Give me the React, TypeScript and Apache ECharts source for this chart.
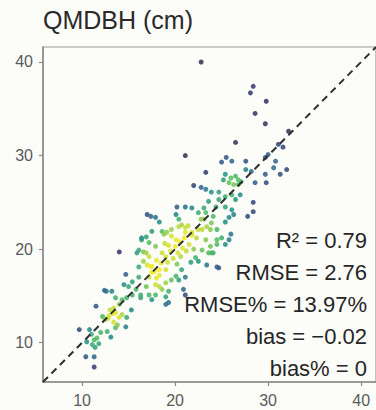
import React, { useEffect, useRef } from "react";
import * as echarts from "echarts";

const titleText = "QMDBH (cm)";
const tickValues = [10, 20, 30, 40];
const axisMin = 5.8;
const axisMax = 41.6;
const statLines = ["R² = 0.79", "RMSE = 2.76", "RMSE% = 13.97%", "bias = −0.02", "bias% = 0"];

// observed (x) values
const obsX = [
  22.8, 28.4, 28.1, 29.8, 28.6, 29.7, 32.2, 26.5, 21.1, 31.1, 31.6, 25.0, 25.5, 26.1, 27.6, 27.6, 28.2, 29.7, 30.0, 30.8,
  30.6, 32.0, 31.3, 29.7, 29.8, 28.6, 23.3, 25.4, 26.0, 26.5, 26.8, 27.1, 25.2, 25.8, 26.3, 26.8, 23.9, 24.7, 23.3, 22.8,
  25.4, 26.1, 26.5, 27.0, 24.7, 24.4, 25.4, 23.6, 23.1, 23.3, 24.1, 23.9, 23.4, 26.1, 26.3, 25.8, 25.4, 28.4, 28.4, 27.8,
  23.1, 22.9, 23.8, 22.0, 21.8, 21.1, 22.5, 20.2, 17.0, 17.4, 17.9, 18.3, 20.1, 20.4, 20.7, 17.5, 18.6, 19.1, 16.4, 16.9,
  24.5, 22.8, 23.3, 24.5, 25.0, 22.9, 23.6, 24.1, 22.5, 22.2, 21.7, 23.4, 24.5, 20.7, 21.1, 20.4, 17.2, 16.9, 16.6, 17.4,
  16.1, 18.3, 19.0, 19.6, 15.8, 16.3, 21.1, 21.8, 22.5, 25.8, 26.0, 24.5, 23.8, 23.9, 25.4, 24.7, 20.9, 21.1, 14.0, 15.9,
  16.6, 12.6, 13.2, 11.5, 9.7, 10.8, 10.4, 11.3, 11.3, 14.7, 15.4, 15.0, 14.5, 16.1, 16.9, 16.1, 17.0, 17.5, 18.3, 17.9,
  17.9, 19.0, 19.3, 18.6, 19.3, 20.1, 17.2, 17.9, 16.4, 18.8, 19.6, 20.4, 21.1, 12.4, 11.0, 11.3, 11.6, 11.1, 11.8, 10.5,
  11.4, 12.0, 13.1, 12.7, 13.6, 12.9, 13.3, 12.5, 14.0, 14.3, 14.8, 13.8, 13.4, 14.0, 14.3, 14.8, 13.6, 15.4, 17.2, 16.3,
  17.5, 19.0, 15.3, 14.7, 18.5, 19.0, 19.5, 20.0, 20.5, 21.0, 19.2, 19.8, 20.3, 20.8, 18.0, 18.6, 19.3, 20.1, 21.5, 22.0,
  17.8, 18.3, 17.5, 20.6, 21.2, 19.6, 18.9, 20.2, 21.8, 17.2, 18.0, 19.0, 21.4, 22.3, 12.8, 13.4, 12.2, 13.0, 13.6,
];

// predicted (y) values
const predY = [
  40.0, 37.4, 36.7, 35.8, 34.5, 33.4, 32.6, 31.4, 30.0, 31.2, 30.9, 29.3, 29.8, 29.4, 29.4, 28.5, 28.3, 29.8, 30.1, 29.4,
  28.7, 28.5, 28.0, 28.0, 27.1, 27.1, 28.2, 28.0, 27.6, 27.8, 27.4, 27.2, 27.4, 27.1, 26.9, 26.9, 26.1, 26.1, 26.4, 26.6,
  25.6, 25.8, 25.3, 25.8, 25.3, 24.5, 24.5, 25.1, 24.4, 23.9, 23.5, 22.8, 22.4, 24.2, 23.7, 23.4, 22.9, 25.0, 24.0, 23.5,
  23.2, 22.1, 22.1, 26.8, 24.4, 24.5, 23.9, 24.5, 23.7, 23.5, 23.4, 22.9, 23.7, 23.2, 22.6, 21.9, 21.9, 21.8, 21.2, 21.3,
  22.1, 23.2, 21.0, 21.0, 21.2, 19.9, 19.6, 19.6, 18.7, 19.1, 18.6, 18.3, 18.1, 17.8, 17.0, 16.7, 20.7, 19.6, 18.7, 18.1,
  19.9, 16.0, 16.4, 16.7, 15.7, 15.1, 22.3, 21.8, 22.1, 21.0, 21.6, 20.5, 20.3, 19.6, 20.5, 18.0, 15.7, 15.1, 19.7, 19.6,
  19.7, 15.5, 15.5, 13.9, 11.4, 11.4, 8.5, 8.5, 7.4, 17.3, 16.5, 16.0, 16.2, 17.0, 16.0, 18.1, 18.3, 17.5, 17.8, 16.2,
  15.1, 14.9, 14.3, 15.7, 15.5, 17.1, 19.2, 20.3, 21.0, 21.6, 22.1, 22.4, 21.8, 15.6, 10.9, 10.3, 10.5, 9.8, 9.9, 10.1,
  9.5, 11.1, 10.6, 11.2, 11.6, 12.9, 13.1, 12.5, 12.7, 13.0, 12.7, 11.9, 13.7, 14.1, 14.6, 14.8, 14.8, 15.1, 15.1, 14.8,
  14.6, 14.1, 13.5, 11.7, 18.5, 19.2, 19.8, 20.3, 20.8, 21.2, 18.6, 19.0, 19.6, 20.1, 18.8, 19.6, 20.4, 21.0, 20.5, 20.0,
  17.6, 17.2, 18.2, 19.2, 19.8, 21.4, 20.6, 18.4, 21.5, 17.0, 16.9, 17.8, 22.5, 21.2, 12.6, 12.2, 12.8, 13.5, 13.2,
];

export default function App() {
  const ref = useRef<HTMLDivElement>(null);

  useEffect(() => {
    if (!ref.current) return;
    const chart = echarts.init(ref.current, null, { renderer: "svg" });

    const n = Math.min(obsX.length, predY.length);
    const h = 1.0;
    const dens: number[] = [];
    for (let i = 0; i < n; i++) {
      let s = 0;
      for (let j = 0; j < n; j++) {
        const dx = obsX[i] - obsX[j];
        const dy = predY[i] - predY[j];
        s += Math.exp(-(dx * dx + dy * dy) / (2 * h * h));
      }
      dens.push(s);
    }
    const maxD = Math.max(...dens);
    const pts = [] as number[][];
    for (let i = 0; i < n; i++) pts.push([obsX[i], predY[i], dens[i] / maxD]);
    // draw sparse first, dense on top
    pts.sort((a, b) => a[2] - b[2]);

    const axisCommon = {
      type: "value" as const,
      min: axisMin,
      max: axisMax,
      splitLine: { show: false },
      axisLine: { show: true, lineStyle: { color: "#8a8a8a", width: 1.5 } },
      axisTick: {
        show: true,
        length: 4,
        inside: false,
        customValues: tickValues,
        lineStyle: { color: "#8a8a8a", width: 1.2 },
      },
      axisLabel: {
        customValues: tickValues,
        color: "#5a5a5a",
        fontSize: 16,
        fontFamily: "Liberation Sans, Arial, sans-serif",
        margin: 10,
      },
    };

    chart.setOption({
      animation: false,
      backgroundColor: "#fcfcf8",
      grid: {
        left: 43,
        top: 47,
        right: -3,
        bottom: 28,
        show: true,
        borderColor: "#9a9a9a",
        borderWidth: 1.2,
        backgroundColor: "transparent",
      },
      xAxis: { ...axisCommon },
      yAxis: { ...axisCommon },
      visualMap: {
        show: false,
        type: "continuous",
        dimension: 2,
        min: 0,
        max: 1,
        seriesIndex: 0,
        inRange: {
          color: ["#30303c", "#383c72", "#33648c", "#23938a", "#4fbb68", "#c6dd3a", "#f8ec2a"],
        },
      },
      series: [
        {
          type: "scatter",
          data: pts,
          symbolSize: 5,
          itemStyle: { opacity: 0.88 },
          z: 2,
        },
        {
          type: "line",
          data: [
            [axisMin, axisMin],
            [axisMax, axisMax],
          ],
          symbol: "none",
          lineStyle: { color: "#2f2f2f", width: 2, type: [7, 5] },
          z: 3,
        },
      ],
      graphic: [
        {
          type: "text",
          left: 43,
          top: 7,
          style: {
            text: titleText,
            fill: "#2a2a2a",
            fontSize: 25,
            fontFamily: "Liberation Sans, Arial, sans-serif",
          },
        },
        ...statLines.map((t, i) => ({
          type: "text",
          x: 367,
          y: 240 + i * 32.2,
          z: 10,
          style: {
            text: t,
            fill: "#262626",
            fontSize: 22,
            fontFamily: "Liberation Sans, Arial, sans-serif",
            align: "right",
            verticalAlign: "middle",
          },
        })),
      ],
    });

    return () => chart.dispose();
  }, []);

  return (
    <div
      ref={ref}
      style={{ position: "fixed", left: 0, top: 0, width: 376, height: 410 }}
    />
  );
}
